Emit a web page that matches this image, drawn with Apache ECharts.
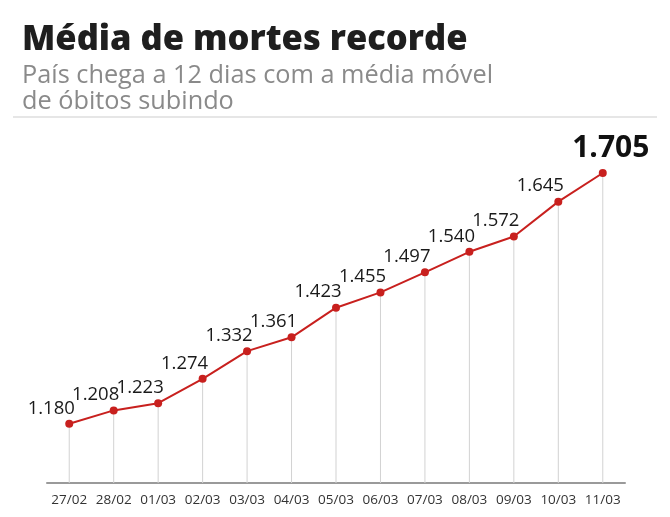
<!DOCTYPE html>
<html>
<head>
<meta charset="utf-8">
<script src="https://cdn.jsdelivr.net/npm/echarts@6/dist/echarts.min.js"></script>
<style>
html,body{margin:0;padding:0;background:#fff;}
#chart{width:670px;height:517px;}
</style>
</head>
<body>
<div id="chart"></div>
<script>
const categories = ['27/02','28/02','01/03','02/03','03/03','04/03','05/03','06/03','07/03','08/03','09/03','10/03','11/03'];
const mortes = [1180,1208,1223,1274,1332,1361,1423,1455,1497,1540,1572,1645,1705];
const titleText = 'Média de mortes recorde';
const subtitleText = 'País chega a 12 dias com a média móvel\nde óbitos subindo';

const fmt = v => {
  const s = String(Math.round(v));
  return s.replace(/\B(?=(\d{3})+(?!\d))/g, '.');
};
const lastIdx = mortes.length - 1;

const chart = echarts.init(document.getElementById('chart'), null, {renderer: 'canvas'});
chart.setOption({
  animation: false,
  backgroundColor: '#fff',
  title: {
    text: titleText,
    subtext: subtitleText,
    left: 17,
    top: 15,
    itemGap: 3,
    textStyle: {fontFamily: 'Open Sans', fontSize: 34.5, fontWeight: 800, color: '#1e1e1e', lineHeight: 40},
    subtextStyle: {fontFamily: 'Open Sans', fontSize: 25.3, color: '#8a8a8a', lineHeight: 26}
  },
  graphic: [{
    type: 'line',
    shape: {x1: 13, y1: 117, x2: 657, y2: 117},
    style: {stroke: '#e6e6e6', lineWidth: 2}
  }],
  grid: {left: 47, right: 45, top: 173, bottom: 34, containLabel: false},
  xAxis: {
    type: 'category',
    data: categories,
    boundaryGap: true,
    axisLine: {show: true, lineStyle: {color: '#9a9a9a', width: 2}},
    axisTick: {show: false},
    axisLabel: {interval: 0, fontFamily: 'Open Sans', fontSize: 13.5, color: '#333', margin: 10},
    splitLine: {show: false}
  },
  yAxis: {
    type: 'value',
    min: 1056,
    max: 1705,
    show: false,
    splitLine: {show: false}
  },
  series: [
    {
      type: 'bar',
      data: mortes,
      barWidth: 1,
      itemStyle: {color: '#d2d2d2'},
      silent: true,
      z: 1
    },
    {
      type: 'line',
      data: mortes.map((v, i) => i === lastIdx ? {
        value: v,
        label: {fontSize: 30, fontWeight: 'bold', color: '#111', offset: [8, -2]}
      } : v),
      symbol: 'circle',
      symbolSize: 8,
      lineStyle: {color: '#c8201e', width: 2},
      itemStyle: {color: '#c8201e'},
      z: 3,
      label: {
        show: true,
        position: 'top',
        distance: 4,
        offset: [-18, 2],
        fontFamily: 'Open Sans',
        fontSize: 18.5,
        color: '#1a1a1a',
        formatter: p => fmt(p.value)
      }
    }
  ]
});
</script>
</body>
</html>
